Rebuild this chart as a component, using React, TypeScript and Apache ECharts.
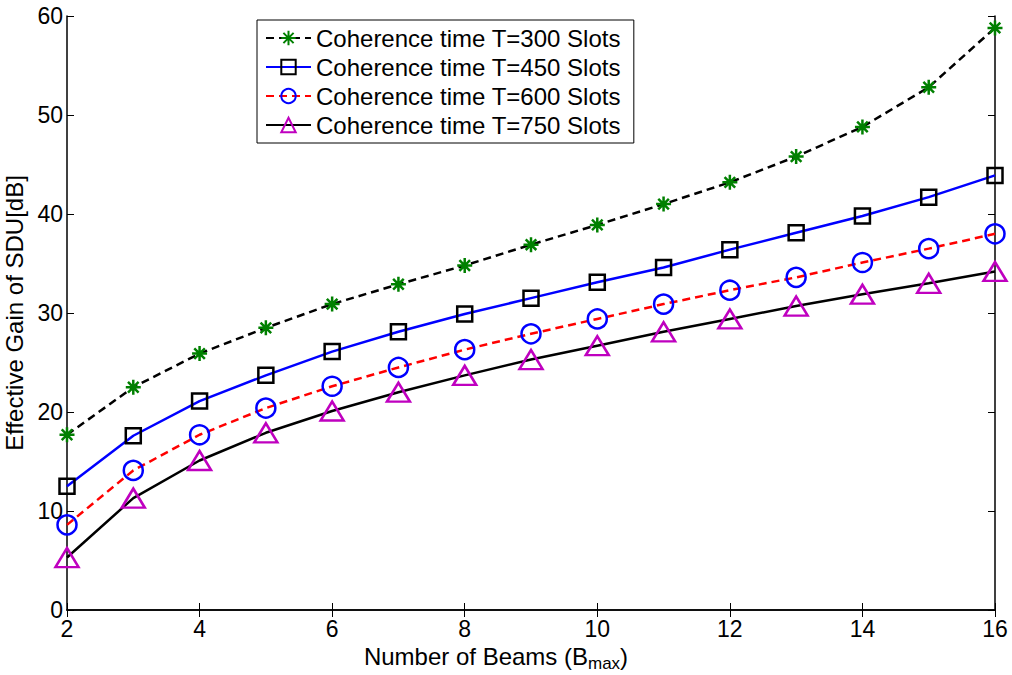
import React, { useEffect, useRef } from "react";
import * as echarts from "echarts";

const beams = [2, 3, 4, 5, 6, 7, 8, 9, 10, 11, 12, 13, 14, 15, 16];
const t300 = [17.7, 22.5, 25.9, 28.5, 30.9, 32.9, 34.8, 36.9, 38.9, 41.0, 43.2, 45.8, 48.8, 52.8, 58.8];
const t450 = [12.5, 17.6, 21.1, 23.7, 26.1, 28.1, 29.9, 31.5, 33.1, 34.6, 36.4, 38.1, 39.8, 41.7, 43.9];
const t600 = [8.6, 14.1, 17.7, 20.4, 22.6, 24.5, 26.3, 27.9, 29.4, 30.9, 32.3, 33.6, 35.1, 36.5, 38.0];
const t750 = [5.3, 11.3, 15.1, 17.9, 20.1, 22.0, 23.7, 25.3, 26.7, 28.1, 29.4, 30.7, 31.9, 33.0, 34.2];
const seriesNames = [
  "Coherence time T=300 Slots",
  "Coherence time T=450 Slots",
  "Coherence time T=600 Slots",
  "Coherence time T=750 Slots",
];

const STAR =
  "path://M0,-10 L0,10 M-10,0 L10,0 M-7.07,-7.07 L7.07,7.07 M-7.07,7.07 L7.07,-7.07";

const FONT = "Liberation Sans, Arial, sans-serif";

export default function App() {
  const ref = useRef<HTMLDivElement>(null);
  useEffect(() => {
    if (!ref.current) return;
    const chart = echarts.init(ref.current, null, { renderer: "svg" });
    const pair = (arr: number[]) => beams.map((b, i) => [b, arr[i]]);
    const axisCommon = {
      axisLine: { show: true, lineStyle: { color: "#000", width: 1.5 } },
      axisTick: { show: true, inside: true, length: 7, lineStyle: { color: "#000" } },
      splitLine: { show: false },
    };
    chart.setOption({
      animation: false,
      backgroundColor: "#fff",
      textStyle: { fontFamily: FONT },
      grid: {
        left: 67,
        right: 17,
        top: 16,
        bottom: 65,
        containLabel: false,
        outerBoundsMode: "none",
      },
      legend: {
        orient: "vertical",
        left: 257,
        top: 20,
        itemWidth: 45,
        itemHeight: 18,
        itemGap: 5,
        padding: [6, 13, 6, 8],
        borderColor: "#000",
        borderWidth: 1,
        backgroundColor: "#fff",
        textStyle: { fontSize: 24, color: "#000", fontFamily: FONT },
        data: seriesNames,
      },
      xAxis: [
        {
          type: "value",
          min: 2,
          max: 16,
          interval: 2,
          ...axisCommon,
          axisLabel: { fontSize: 23, color: "#000", margin: 7, fontFamily: FONT },
          name: "{a|Number of Beams (B}{s|max}{a|)}",
          nameLocation: "middle",
          nameGap: 29,
          nameTextStyle: {
            padding: [0, 70, 0, 0],
            rich: {
              a: { fontSize: 24, color: "#000", fontFamily: FONT },
              s: { fontSize: 17, color: "#000", fontFamily: FONT, padding: [13, 0, 0, 0] },
            },
          },
        },
        {
          type: "value",
          position: "top",
          min: 2,
          max: 16,
          interval: 2,
          ...axisCommon,
          axisLabel: { show: false },
        },
      ],
      yAxis: [
        {
          type: "value",
          min: 0,
          max: 60,
          interval: 10,
          ...axisCommon,
          axisLabel: { fontSize: 23, color: "#000", margin: 4, fontFamily: FONT },
          name: "Effective Gain of SDU[dB]",
          nameLocation: "middle",
          nameGap: 30,
          nameTextStyle: { fontSize: 24, color: "#000", fontFamily: FONT },
        },
        {
          type: "value",
          position: "right",
          min: 0,
          max: 60,
          interval: 10,
          ...axisCommon,
          axisLabel: { show: false },
        },
      ],
      series: [
        {
          name: seriesNames[0],
          type: "line",
          data: pair(t300),
          symbol: STAR,
          symbolSize: 15,
          lineStyle: { color: "#000", width: 2.5, type: [8, 5] },
          itemStyle: { color: "rgba(0,0,0,0)", borderColor: "#008000", borderWidth: 2.5 },
          z: 5,
        },
        {
          name: seriesNames[1],
          type: "line",
          data: pair(t450),
          symbol: "rect",
          symbolSize: 15,
          lineStyle: { color: "#0000ff", width: 2.5 },
          itemStyle: { color: "rgba(0,0,0,0)", borderColor: "#000", borderWidth: 2.5 },
          z: 4,
        },
        {
          name: seriesNames[2],
          type: "line",
          data: pair(t600),
          symbol: "circle",
          symbolSize: 19,
          lineStyle: { color: "#ff0000", width: 2.5, type: [8, 5] },
          itemStyle: { color: "rgba(0,0,0,0)", borderColor: "#0000ff", borderWidth: 2.5 },
          z: 3,
        },
        {
          name: seriesNames[3],
          type: "line",
          data: pair(t750),
          symbol: "triangle",
          symbolSize: [23, 19],
          lineStyle: { color: "#000", width: 2.5 },
          itemStyle: { color: "rgba(0,0,0,0)", borderColor: "#bf00bf", borderWidth: 2.5 },
          z: 2,
        },
      ],
    });
    return () => chart.dispose();
  }, []);
  return <div ref={ref} style={{ width: 1012, height: 675, position: "absolute", left: 0, top: 0 }} />;
}
